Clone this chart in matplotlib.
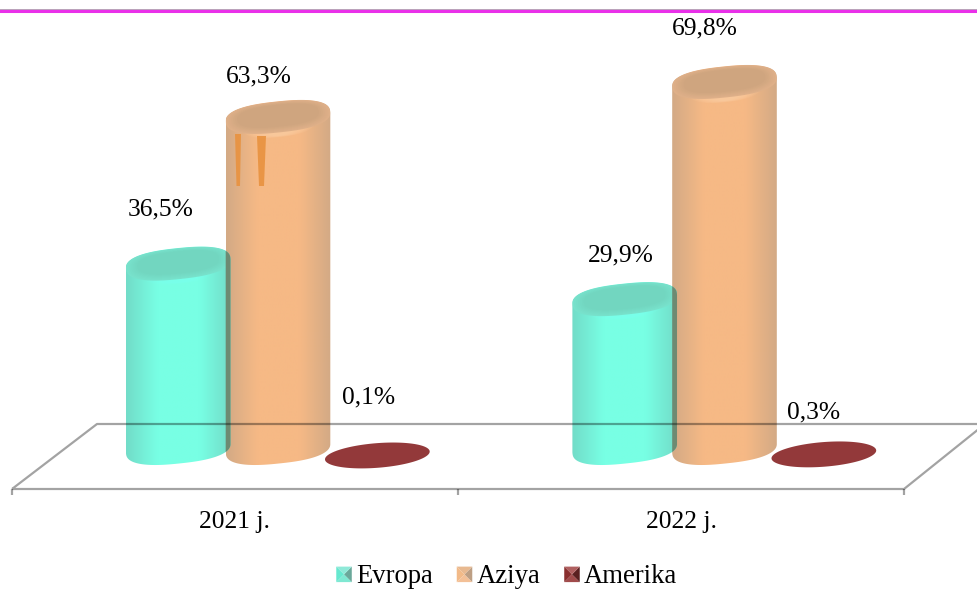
import numpy as np
import matplotlib
matplotlib.use("Agg")
import matplotlib.pyplot as plt
from matplotlib.colors import LinearSegmentedColormap, to_rgb
from matplotlib.legend_handler import HandlerBase
from matplotlib.patches import PathPatch, Patch, Polygon
from matplotlib.path import Path
from matplotlib.transforms import IdentityTransform

years = ["2021 j.", "2022 j."]
series_names = ["Evropa", "Aziya", "Amerika"]
evropa = [36.5, 29.9]
aziya = [63.3, 69.8]
amerika = [0.1, 0.3]
labels_evropa = ["36,5%", "29,9%"]
labels_aziya = ["63,3%", "69,8%"]
labels_amerika = ["0,1%", "0,3%"]

W, H = 977, 590
X0, XS = 278.0, 446.5      # px of the first group, px per category
Y0, YS = 456.0, 5.38       # px of value 0, px per percent
OFFS = [-0.2235, 0.0, 0.2225]
A, B, TILT, SUPER = 52.5, 15.5, 6.0, 2.5

plt.rcParams["font.family"] = ["Liberation Serif", "DejaVu Serif"]
FS = 18.4
FS_LEG = 19.2
fig = plt.figure(figsize=(W / 100, H / 100), dpi=100)
ax = fig.add_axes([0, 0, 1, 1])
ax.set_xlim(-X0 / XS, (W - X0) / XS)
ax.set_ylim((Y0 - H) / YS, Y0 / YS)
ax.set_autoscale_on(False)
ax.axis("off")


def dx(px):
    return (px - X0) / XS


def dy(py):
    return (Y0 - py) / YS


def ell_pts(cx, cy, a=A, b=B, ang=TILT, n=SUPER):
    t = np.linspace(0, 2 * np.pi, 361)[:-1]
    r = np.deg2rad(ang)
    c, s = np.cos(t), np.sin(t)
    x = a * np.sign(c) * np.abs(c) ** (2 / n)
    y = b * np.sign(s) * np.abs(s) ** (2 / n)
    return np.c_[cx + x * np.cos(r) - y * np.sin(r), cy + x * np.sin(r) + y * np.cos(r)]


def silhouette(cx, cy_top, cy_bot):
    top = ell_pts(cx, cy_top)
    bot = ell_pts(cx, cy_bot)
    ir, il = int(np.argmax(top[:, 0])), int(np.argmin(top[:, 0]))
    n = len(top)
    up = [top[(ir + k) % n] for k in range((il - ir) % n + 1)]
    lo = [bot[(il + k) % n] for k in range((ir - il) % n + 1)]
    return Path(np.array(up + lo + [up[0]]), closed=True)


def ell_patch(cx, cy, a, b, color, alpha=1.0, z=3, clip=None, ang=TILT, n=SUPER):
    pts = ell_pts(cx, cy, a, b, ang, n)
    p = Polygon(pts, closed=True, facecolor=color, edgecolor="none", alpha=alpha, zorder=z,
                transform=IdentityTransform())
    ax.add_patch(p)
    if clip is not None:
        p.set_clip_path(clip, IdentityTransform())
    return p


def mix(c1, c2, f):
    return tuple((1 - f) * np.array(to_rgb(c1)) + f * np.array(to_rgb(c2)))


def cylinder(xv, v, drop, edge, mid, cap, cap_in, hi, z):
    cx, cy = ax.transData.transform((xv, v))
    cy -= drop
    _, cy0 = ax.transData.transform((xv, 0))
    cy_bot = cy0 + 8
    path = silhouette(cx, cy, cy_bot)
    cmap = LinearSegmentedColormap.from_list(
        "c", [(0, edge), (0.3, mid), (0.7, mid), (1, edge)], N=128)
    grad = np.linspace(0, 1, 128).reshape(1, -1)
    left, right = ax.transData.inverted().transform([(cx - A, cy), (cx + A, cy)])[:, 0]
    im = ax.imshow(grad, cmap=cmap, extent=(left, right, dy(470), v + 5), aspect="auto",
                   zorder=z, interpolation="bilinear")
    im.set_clip_path(path, IdentityTransform())
    # bright band under the front rim of the top
    for k in range(8):
        ell_patch(cx, cy - 4.5, A * (0.72 - 0.06 * k), B * (1.02 - 0.015 * k), hi, 0.13, z + 0.1, path)
    # top cap, blended from rim to centre
    steps = 7
    for k in range(steps):
        f = k / (steps - 1)
        ell_patch(cx, cy + 1.2 * f, A * (1 - 0.22 * f), B * (1 - 0.30 * f), mix(cap, cap_in, f), 1,
                  z + 0.2 + 0.01 * k, path)
    return path


# Orange columns first, teal over them
orange = ("#d3aa85", "#f6b985", "#dfb089", "#cfa57f", "#ffd3a8")
teal = ("#72dcc8", "#78ffe4", "#78e2cc", "#72d6c0", "#7dfff0")
for i in range(len(years)):
    po = cylinder(i + OFFS[1], aziya[i], 1.5, *orange, 3)
    pt = cylinder(i + OFFS[0], evropa[i], 4.0, *teal, 4)
    ov = PathPatch(pt, transform=IdentityTransform(), facecolor="#6d8a72", edgecolor="none", zorder=4.6)
    ax.add_patch(ov)
    ov.set_clip_path(po, IdentityTransform())
    cx, cy = ax.transData.transform((i + OFFS[2], amerika[i]))
    ell_patch(cx, cy, A, 12.3, "#93393a", 1, 4, ang=4.5, n=2.0)

# Streaks on the first orange column
for pts in ([(235, 134), (241, 134), (240, 186), (236.5, 186)],
            ((257, 136), (266, 136), (264, 186), (259, 186))):
    ax.add_patch(Polygon([(dx(a), dy(b)) for a, b in pts], closed=True, facecolor="#e8923f",
                         edgecolor="none", alpha=0.9, zorder=5))

# Floor
fl = dict(color="black", alpha=0.36, lw=1.6, zorder=6, solid_capstyle="butt")
ax.plot([dx(12), dx(904), dx(985), dx(97), dx(12)],
        [dy(489), dy(489), dy(424), dy(424), dy(489)], **fl)
for k in range(3):
    px = 12 + 446 * k
    ax.plot([dx(px), dx(px)], [dy(489), dy(495)], **fl)

# Top rule
ax.plot([dx(0), dx(W)], [dy(10.7), dy(10.7)], color="#e930e9", lw=2.2, zorder=7)
ax.plot([dx(0), dx(W)], [dy(9.2), dy(9.2)], color="#b9a0b9", lw=0.7, zorder=7)

# Data labels
lab_off = {0: [(-18, 50), (-4, 40)], 1: [(-19, 39), (-20, 52)], 2: [(-9, 58), (-10, 42)]}
for s, (vals, labs) in enumerate(zip((evropa, aziya, amerika), (labels_evropa, labels_aziya, labels_amerika))):
    for i, (v, t) in enumerate(zip(vals, labs)):
        ox, oy = lab_off[s][i]
        ax.annotate(t, (i + OFFS[s], v), xytext=(ox, oy), textcoords="offset pixels",
                    ha="center", va="center", fontsize=FS, color="black", zorder=8)

# Category labels
for i, t in enumerate(years):
    ax.text(i - 0.097, dy(522), t, ha="center", va="center", fontsize=FS, color="black", zorder=8)


# Legend with pyramid-shaded keys
class KeyHandler(HandlerBase):
    def __init__(self, shades):
        super().__init__()
        self.shades = shades

    def create_artists(self, legend, orig, xd, yd, w, h, fs, trans):
        s = 15.5 * 72 / 100
        x0 = -xd + (w - s) / 2
        y0 = -yd + (h - s) / 2 - 0.5
        c = (x0 + s / 2, y0 + s / 2)
        corners = [(x0, y0), (x0 + s, y0), (x0 + s, y0 + s), (x0, y0 + s)]
        out = []
        for k in range(4):
            out.append(Polygon([corners[k], corners[(k + 1) % 4], c], closed=True,
                               facecolor=self.shades[k], edgecolor="none", transform=trans))
        return out


shades = [("#7fe8d2", "#6aa89a", "#8fe9d8", "#66e8cf"),
          ("#f3c097", "#bd9f84", "#e8b990", "#f2ba88"),
          ("#a14b4b", "#5a2020", "#b06060", "#8a2f2f")]
handles = [Patch(label=n) for n in series_names]
ax.legend(handles, series_names, ncol=3, frameon=False, fontsize=FS_LEG, loc="center",
          bbox_to_anchor=(506.5 / W, 1 - 576.5 / H), bbox_transform=fig.transFigure,
          handlelength=0.6, handleheight=0.7, handletextpad=0.14, columnspacing=0.9, borderpad=0,
          handler_map={h: KeyHandler(s) for h, s in zip(handles, shades)})

fig.savefig("out.png", dpi=100, facecolor="white")
